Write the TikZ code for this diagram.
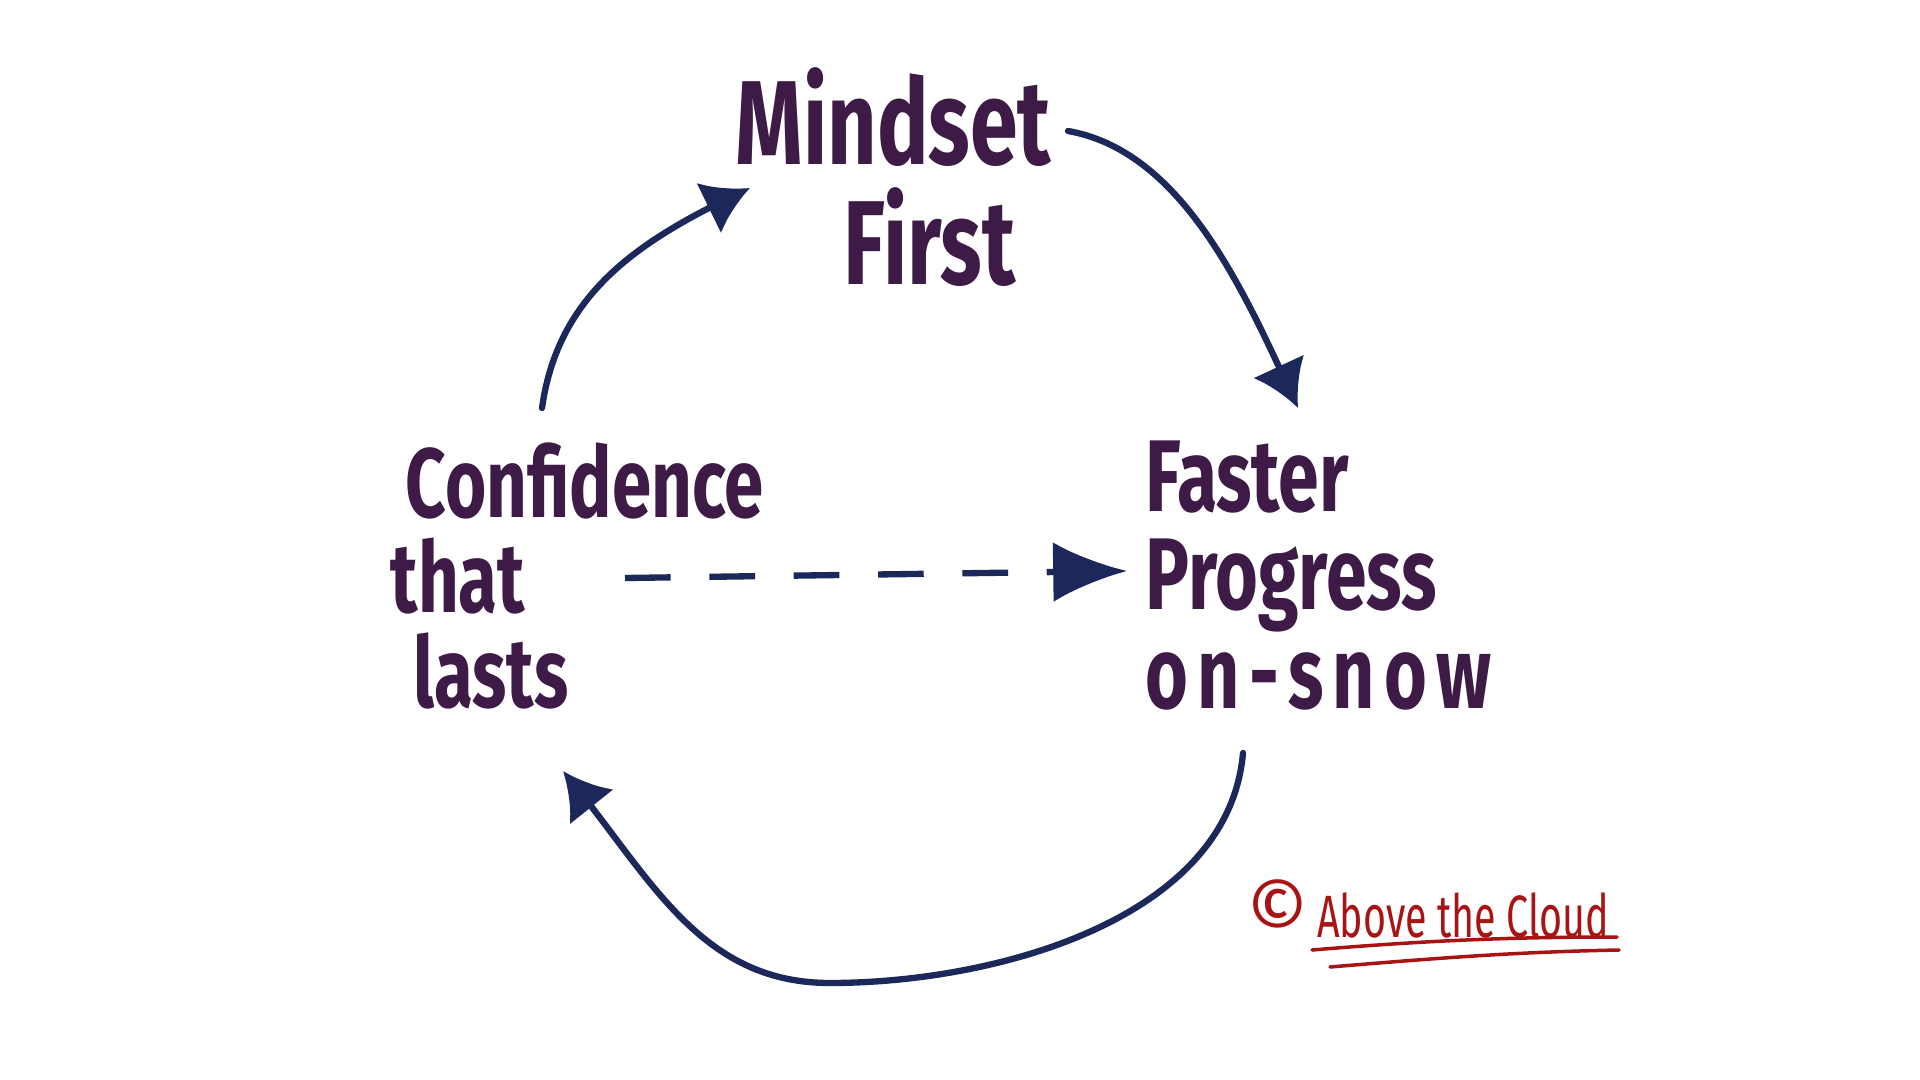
\documentclass[tikz,border=0pt]{standalone}
\usepackage{fontspec}
\newfontfamily\handfont[FakeStretch=0.72]{Fira Sans}
\newfontfamily\signfont[FakeStretch=0.66]{Fira Sans}
\newfontfamily\roundfont{Fira Sans}
\usetikzlibrary{arrows.meta,calc,bending}
\definecolor{inkpurple}{HTML}{3E1A47}
\definecolor{inknavy}{HTML}{1C285A}
\definecolor{inkred}{HTML}{A81414}
\tikzset{
    handnode/.style={font=\handfont\bfseries\fontsize{28}{27}\selectfont,text=inkpurple,align=left,inner sep=0pt,anchor=north west},
    flowarrow/.style={draw=inknavy,line width=1.8pt,line cap=round,-{Latex[length=13pt,width=16pt]}},
    leaparrow/.style={draw=inknavy,line width=1.8pt,dash pattern=on 13pt off 11pt,-{Latex[length=21pt,width=17pt]}},
    signnode/.style={font=\signfont\fontsize{17}{20}\selectfont,text=inkred,inner sep=0pt,anchor=base west},
    signline/.style={draw=inkred,line width=1pt,line cap=round}
}
\begin{document}
\begin{tikzpicture}
  \useasboundingbox (0,0) rectangle (19.2,-10.8);

  %---------------- the three stages ----------------
            \node[handnode,font=\handfont\bfseries\fontsize{34}{34}\selectfont] (mindset) at (7.35,-0.67) {Mindset\\\hspace*{1.08cm}First};
            \node[handnode] (conf) at (4.05,-4.42) {Confidence\\\hspace*{-0.15cm}that\\\hspace*{0.08cm}lasts};
            \node[handnode,font=\handfont\bfseries\fontsize{29}{28}\selectfont] (prog) at (11.45,-4.40) {Faster\\Progress\\{\addfontfeature{LetterSpace=9}on-snow}};

  %---------------- the loop ----------------
            \draw[flowarrow] ([shift={(1.37,0.34)}]conf.north west) to[out=82,in=-155] ([shift={(0.15,-1.21)}]mindset.north west);
            \draw[flowarrow] ([shift={(3.33,-0.64)}]mindset.north west) to[out=-10,in=115,looseness=0.85] ([shift={(1.53,0.32)}]prog.north west);
  % back round underneath
            \coordinate (loopbottom) at (8.3,-9.83);
            \draw[flowarrow] ([shift={(0.98,-3.13)}]prog.north west) to[out=-95,in=0,looseness=0.9] (loopbottom)
                to[out=180,in=-50] ([shift={(1.58,-3.29)}]conf.north west);

  % shortcut straight across
            \draw[leaparrow] ([shift={(2.20,-1.36)}]conf.north west) -- ([shift={(-0.18,-1.31)}]prog.north west);

  %---------------- signature ----------------
            \node[signnode] (sign) at (12.46,-9.37) {{\roundfont\fontsize{22}{20}\selectfont\textcopyright}\kern0.08cm Above the Cloud};
            \draw[signline] ([shift={(0.66,-0.13)}]sign.base west) .. controls +(1.2,0.1) and +(-1,0) .. ([shift={(3.71,0.0)}]sign.base west);
            \draw[signline] ([shift={(0.84,-0.30)}]sign.base west) .. controls +(1.2,0.1) and +(-1,-0.02) .. ([shift={(3.73,-0.13)}]sign.base west);

\end{tikzpicture}
\end{document}
